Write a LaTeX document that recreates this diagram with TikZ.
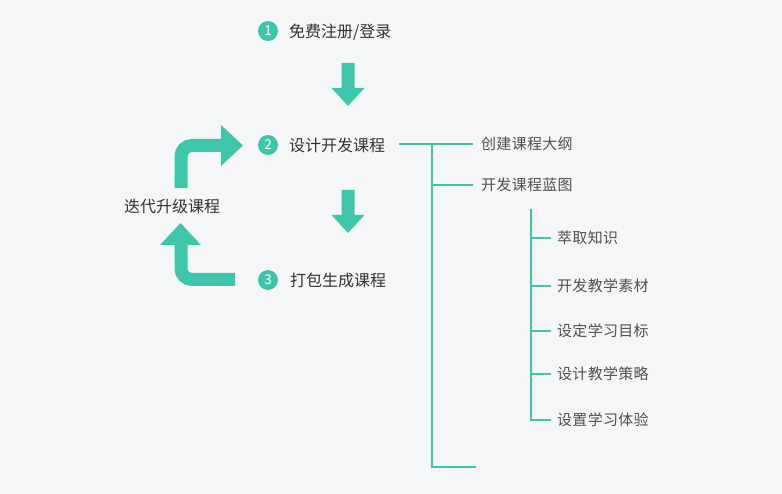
\documentclass[tikz,border=0pt]{standalone}
\usepackage{fontspec}
\setmainfont{Noto Sans CJK SC}
\newfontfamily\subfont[LetterSpace=2]{Noto Sans CJK SC}
\definecolor{teal1}{RGB}{62,198,170}
\definecolor{bgc}{RGB}{245,246,247}
\definecolor{txtmain}{RGB}{51,51,51}
\definecolor{txtsub}{RGB}{80,80,80}
\begin{document}
\begin{tikzpicture}[x=1pt,y=-1pt,
  num/.style={circle, fill=teal1, minimum size=20pt, inner sep=0pt, text=white, font=\fontsize{13.5}{13.5}\selectfont},
  mainlabel/.style={anchor=west, inner sep=0pt, text=txtmain, font=\fontsize{16}{16}\selectfont, text height=14.08pt, text depth=1.92pt},
  sublabel/.style={anchor=west, inner sep=0pt, text=txtsub, font=\subfont\fontsize{15}{15}\selectfont, text height=13.2pt, text depth=1.8pt},
  treeline/.style={draw=teal1, line width=2.3pt},
  bentshaft/.style={draw=teal1, line width=13pt, rounded corners=11pt},
  pics/downarr/.style={code={
    \fill[teal1] (-6.5,0) -- (6.5,0) -- (6.5,25) -- (16.5,25) -- (0,43) -- (-16.5,25) -- (-6.5,25) -- cycle;}}
]
\fill[bgc] (0,0) rectangle (782,494);
\useasboundingbox (0,0) rectangle (782,494);

% steps
\node[num] (n1) at (268,31) {1};
\node[mainlabel] (s1) at (289,31) {免费注册/登录};
\node[num] (n2) at (268,145) {2};
\node[mainlabel] (s2) at (289,145) {设计开发课程};
\node[num] (n3) at (268,280) {3};
\node[mainlabel] (s3) at (290,280) {打包生成课程};
\node[anchor=center, inner sep=0pt, text=txtmain, font=\fontsize{16}{16}\selectfont, text height=14.08pt, text depth=1.92pt] (loop) at (172,206) {迭代升级课程};

% down arrows
\coordinate (d1) at (348,63);
\coordinate (d2) at (348,190);
\pic at (d1) {downarr};
\pic at (d2) {downarr};

% bent arrows
\coordinate (ua) at (181,188);
\coordinate (ub) at (181,145.5);
\coordinate (uc) at (222,145.5);
\draw[bentshaft] (ua) -- (ub) -- (uc);
\fill[teal1] (221,125) -- (243,145.5) -- (221,166) -- cycle;

\coordinate (la) at (181,244);
\coordinate (lb) at (181,279.5);
\coordinate (lc) at (235,279.5);
\draw[bentshaft] (la) -- (lb) -- (lc);
\fill[teal1] (160,245) -- (180.5,223) -- (201,245) -- cycle;

% tree level 1
\node[sublabel] (c1) at (481,144) {创建课程大纲};
\node[sublabel] (c2) at (481,185) {开发课程蓝图};
\coordinate (t0) at (399,144);
\coordinate (t1) at (432,144);
\coordinate (t3) at (432,467);
\coordinate (t4) at (476,467);
\draw[treeline] (t0) -- ([xshift=-8pt]c1.west);
\draw[treeline] (t1) -- (t3) -- (t4);
\draw[treeline] (t1 |- c2.west) -- ([xshift=-8pt]c2.west);

% tree level 2
\node[sublabel] (d21) at (557,238) {萃取知识};
\node[sublabel] (d22) at (557,286) {开发教学素材};
\node[sublabel] (d23) at (557,331) {设定学习目标};
\node[sublabel] (d24) at (557,374) {设计教学策略};
\node[sublabel] (d25) at (557,420) {设置学习体验};
\coordinate (v0) at (531,209);
\draw[treeline] (v0) -- (v0 |- d25.west) -- ([xshift=-6pt]d25.west);
\foreach \k in {21,22,23,24}{
  \draw[treeline] (v0 |- d\k.west) -- ([xshift=-6pt]d\k.west);
}
\end{tikzpicture}
\end{document}
